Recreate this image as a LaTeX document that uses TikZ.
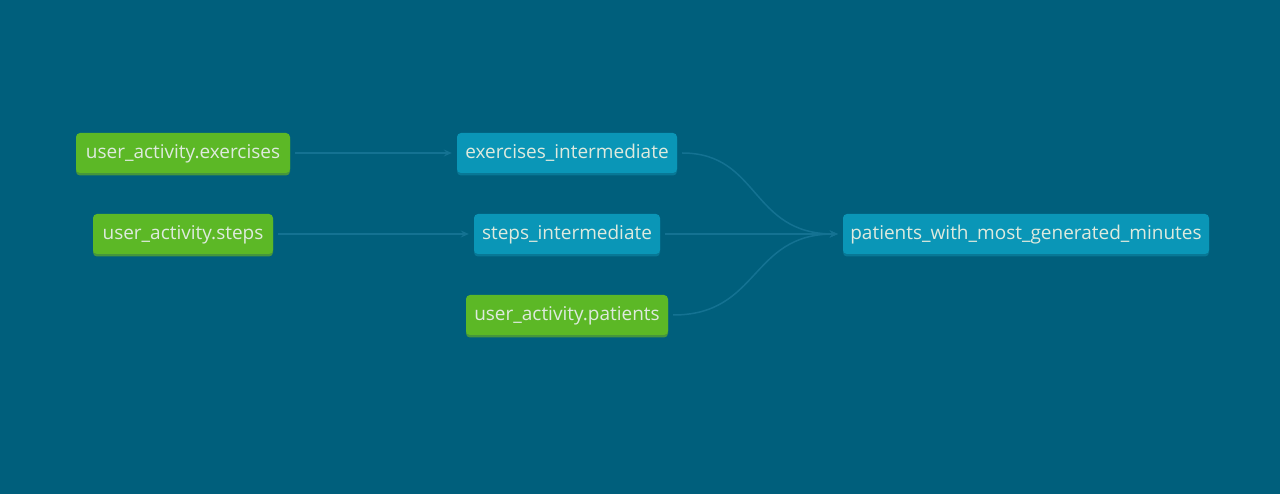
\documentclass[tikz,border=0pt]{standalone}
\usepackage{fontspec}
\setmainfont{Open Sans}
\usetikzlibrary{arrows.meta,shadows}
\definecolor{bg}{RGB}{0,95,124}
\definecolor{greennode}{RGB}{92,184,38}
\definecolor{greenshadow}{RGB}{70,150,60}
\definecolor{bluenode}{RGB}{10,150,183}
\definecolor{blueshadow}{RGB}{8,120,150}
\definecolor{edgecol}{RGB}{20,114,146}
\definecolor{txt}{RGB}{222,234,222}
\tikzset{
  x=1pt, y=-1pt,
  base/.style={rounded corners=4pt, minimum height=40pt, inner xsep=0pt, inner ysep=0pt,
    text height=14pt, text depth=3pt, text=txt,
    font=\fontsize{19}{22}\selectfont, anchor=center},
  src/.style={base, fill=greennode, drop shadow={shadow xshift=0pt, shadow yshift=-2.5pt, fill=greenshadow, opacity=1}},
  mdl/.style={base, fill=bluenode, drop shadow={shadow xshift=0pt, shadow yshift=-2.5pt, fill=blueshadow, opacity=1}},
  edge/.style={draw=edgecol, line width=1.5pt, -{Stealth[length=8pt,width=7pt,inset=3pt]}, shorten >=5pt, shorten <=5pt},
}
\begin{document}
\begin{tikzpicture}
\fill[bg] (0,0) rectangle (1280,494);
\useasboundingbox (0,0) rectangle (1280,494);
\node[src, minimum width=214pt] (ue) at (183,153) {user\_activity.exercises};
\node[src, minimum width=180pt] (us) at (183,234) {user\_activity.steps};
\node[mdl, minimum width=220pt] (ei) at (567,153) {exercises\_intermediate};
\node[mdl, minimum width=186pt] (si) at (567,234) {steps\_intermediate};
\node[src, minimum width=202pt] (up) at (567,315) {user\_activity.patients};
\node[mdl, minimum width=366pt] (pm) at (1026,234) {patients\_with\_most\_generated\_minutes};
\draw[edge] (ue.east) -- (ei.west);
\draw[edge] (us.east) -- (si.west);
\draw[edge] (si.east) -- (pm.west);
\draw[edge] (ei.east) .. controls (760,153) and (750,234) .. (pm.west);
\draw[edge] (up.east) .. controls (760,315) and (750,234) .. (pm.west);
\end{tikzpicture}
\end{document}
